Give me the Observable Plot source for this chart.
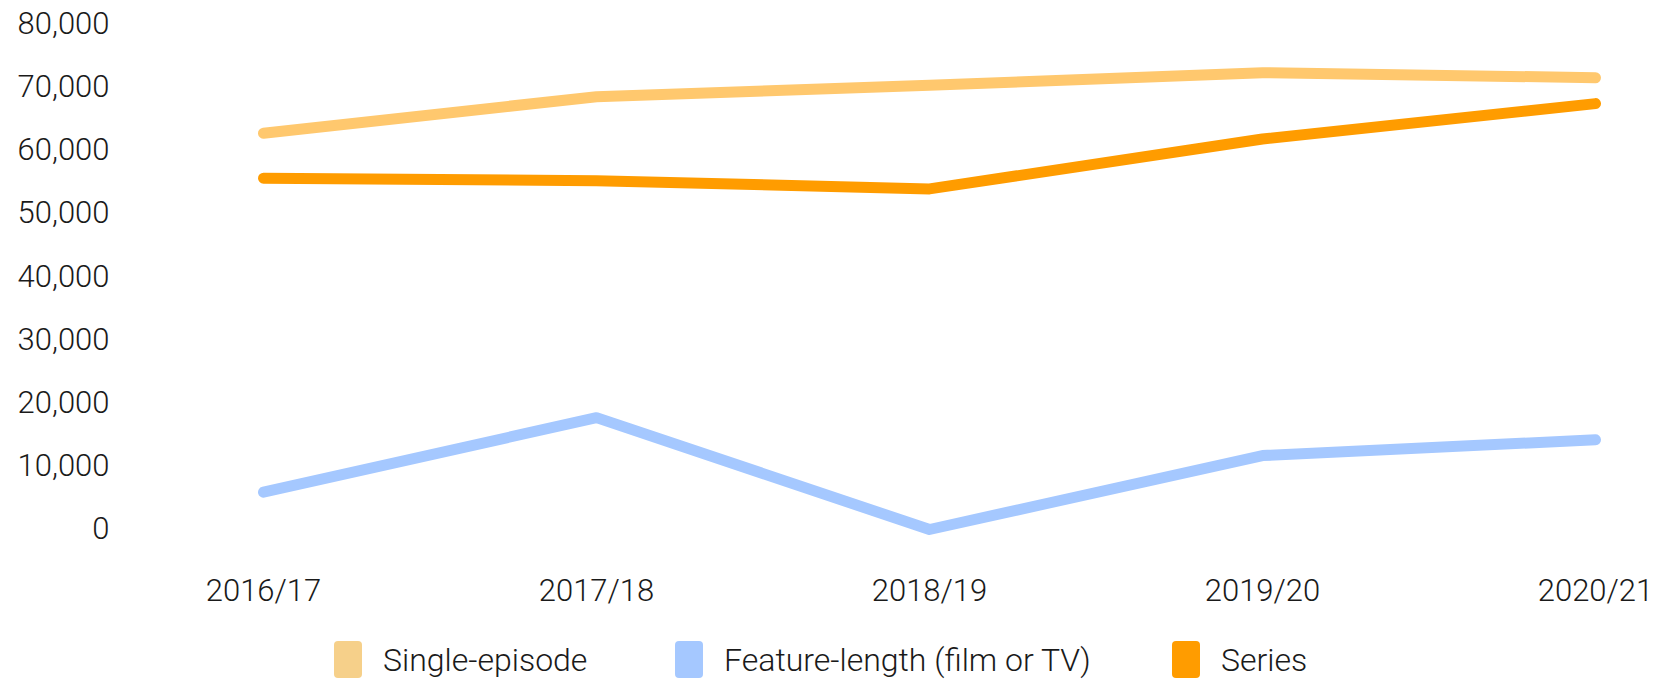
<!DOCTYPE html>
<html>
<head>
<meta charset="utf-8">
<script src="https://cdn.jsdelivr.net/npm/d3@7"></script>
<script src="https://cdn.jsdelivr.net/npm/@observablehq/plot@0.6"></script>
<style>
  html, body { margin: 0; padding: 0; background: #fff; }
  #chart svg { display: block; }
  #legend { position: relative; height: 56px; font-family: Roboto, sans-serif; font-size: 32px; font-weight: 300; color: #1a1a1a; }
  .item { position: absolute; top: 16px; height: 37px; display: flex; align-items: center; }
  .sw { width: 28px; height: 37px; border-radius: 4px; margin-right: 21px; }
</style>
</head>
<body>
<div id="chart"></div>
<div id="legend"></div>
<script>
const years = ["2016/17", "2017/18", "2018/19", "2019/20", "2020/21"];
const seriesNames = ["Single-episode", "Feature-length (film or TV)", "Series"];
const singleEpisode = [62700, 68500, 70300, 72300, 71500];
const featureLength = [5900, 17700, 0, 11700, 14200];
const seriesVals = [55600, 55200, 53900, 61800, 67400];
const lineColors = ["#ffc86e", "#a5c8ff", "#ff9c00"];
const swatchColors = ["#f6d08a", "#a5c8ff", "#ff9c00"];
const yTicks = [0, 10000, 20000, 30000, 40000, 50000, 60000, 70000, 80000];

const valuesBySeries = [singleEpisode, featureLength, seriesVals];
const rows = [];
seriesNames.forEach((s, i) => years.forEach((y, j) => rows.push({series: s, year: y, value: valuesBySeries[i][j]})));

const drawOrder = [1, 0, 2];
const marks = [
  Plot.axisY({ticks: yTicks, tickSize: 0, tickPadding: 153, tickFormat: d3.format(","), label: null, fill: "#1a1a1a"}),
  Plot.axisX({tickSize: 0, tickPadding: 49, label: null, fill: "#1a1a1a"})
];
drawOrder.forEach(i => {
  marks.push(Plot.lineY(rows.filter(r => r.series === seriesNames[i]), {
    x: "year", y: "value", stroke: lineColors[i], strokeWidth: 11,
    strokeLinecap: "round", strokeLinejoin: "round"
  }));
});

const chart = Plot.plot({
  width: 1660,
  height: 625,
  marginLeft: 262,
  marginRight: 65,
  marginTop: 23.5,
  marginBottom: 96,
  style: {fontFamily: "Roboto, sans-serif", fontSize: "31px", fontWeight: 300, color: "#1a1a1a", background: "#fff"},
  x: {type: "point", domain: years, padding: 0},
  y: {domain: [0, 80000]},
  marks
});
document.getElementById("chart").appendChild(chart);

const legendLefts = [334, 675, 1172];
const legend = document.getElementById("legend");
seriesNames.forEach((s, i) => {
  const item = document.createElement("div");
  item.className = "item";
  item.style.left = legendLefts[i] + "px";
  const sw = document.createElement("div");
  sw.className = "sw";
  sw.style.background = swatchColors[i];
  const t = document.createElement("span");
  t.textContent = s;
  item.appendChild(sw);
  item.appendChild(t);
  legend.appendChild(item);
});
</script>
</body>
</html>
